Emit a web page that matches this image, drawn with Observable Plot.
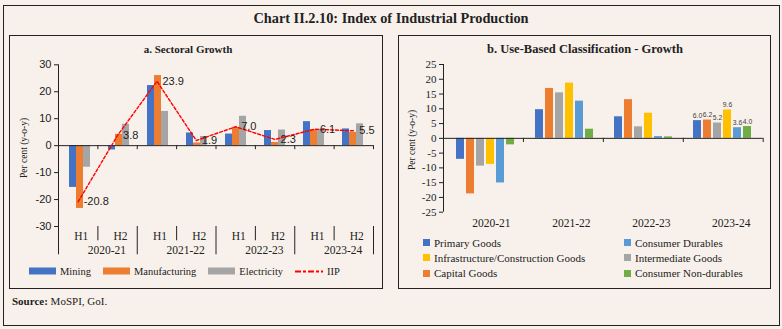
<!DOCTYPE html>
<html>
<head>
<meta charset="utf-8">
<script src="https://cdn.jsdelivr.net/npm/d3@7"></script>
<script src="https://cdn.jsdelivr.net/npm/@observablehq/plot@0.6"></script>
<style>
  html, body { margin: 0; padding: 0; background: #f8f1eb; }
  #root { position: relative; width: 782px; height: 329px; background: #f8f1eb; overflow: hidden;
          font-family: "Liberation Serif", serif; color: #222; }
  .abs { position: absolute; }
  .box { position: absolute; border: 1.3px solid #222; box-sizing: border-box; }
  .title { position: absolute; font-weight: bold; white-space: nowrap; transform: translate(-50%, -50%); }
  .ylab { position: absolute; font-size: 9.5px; white-space: nowrap; transform: translate(-50%, -50%) rotate(-90deg); }
  .leg { position: absolute; display: flex; align-items: center; font-size: 10.5px; white-space: nowrap; }
  .leg .item { display: flex; align-items: center; }
  .sw { display: inline-block; }
  .grid { position: absolute; display: grid; grid-template-columns: 201px 160px; grid-auto-rows: 15.3px; font-size: 11px; white-space: nowrap; }
  .grid .item { display: flex; align-items: center; }
</style>
</head>
<body>
<div id="root"></div>
<script>
// ---------------- DATA ----------------
const years = ["2020-21", "2021-22", "2022-23", "2023-24"];
const halves = ["H1", "H2"];

// Panel a: sectoral growth (per cent, y-o-y), H1/H2 of each year
const sectors = ["Mining", "Manufacturing", "Electricity"];
const mining        = [-15.5, -1.6, 22.3, 4.7, 4.3, 5.6, 8.9, 6.2];
const manufacturing = [-23.3,  4.2, 26.0, 1.0, 6.8, 1.2, 5.8, 4.9];
const electricity   = [ -8.0,  7.9, 12.7, 3.4, 10.9, 5.8, 6.1, 8.1];
const iip           = [-20.8,  3.8, 23.9, 1.9, 7.0, 2.3, 6.1, 5.5];
const iipName = "IIP";

// Panel b: use-based classification growth (per cent, y-o-y)
const categories = ["Primary Goods", "Capital Goods", "Intermediate Goods",
  "Infrastructure/Construction Goods", "Consumer Durables", "Consumer Non-durables"];
const primaryGoods      = [ -7.1,  9.7,  7.3, 6.0];
const capitalGoods      = [-18.8, 16.9, 13.1, 6.2];
const intermediateGoods = [ -9.4, 15.4,  3.9, 5.2];
const infraGoods        = [ -8.8, 18.7,  8.5, 9.6];
const consumerDurables  = [-15.1, 12.6,  0.6, 3.6];
const consumerNonDur    = [ -2.2,  3.1,  0.5, 4.0];
const labelledYear = "2023-24";
const legendOrderB = ["Primary Goods", "Consumer Durables", "Infrastructure/Construction Goods",
  "Intermediate Goods", "Capital Goods", "Consumer Non-durables"];

// Tick values
const ticksA = [-30, -20, -10, 0, 10, 20, 30];
const ticksB = [-25, -20, -15, -10, -5, 0, 5, 10, 15, 20, 25];

// Text
const chartTitle = "Chart II.2.10: Index of Industrial Production";
const titleA = "a. Sectoral Growth";
const titleB = "b. Use-Based Classification - Growth";
const yLabel = "Per cent (y-o-y)";

// ---------------- STYLE ----------------
const SERIF = "Liberation Serif, serif";
const SANS = "Liberation Sans, Arial, sans-serif";
const colorsA = ["#4472c4", "#ed7d31", "#a5a5a5"];
const iipColor = "#ff0000";
const colorsB = ["#4472c4", "#ed7d31", "#a5a5a5", "#ffc000", "#5b9bd5", "#70ad47"];

// ---------------- BUILD ----------------
const root = document.getElementById("root");
function el(cls, css, html) {
  const d = document.createElement("div");
  d.className = cls;
  Object.assign(d.style, css);
  if (html != null) d.innerHTML = html;
  root.appendChild(d);
  return d;
}

// frames
el("box", {left: "3px", top: "5px", width: "777px", height: "321px"});
el("box", {left: "9px", top: "35px", width: "374px", height: "254px"});
el("box", {left: "398px", top: "35px", width: "373px", height: "254px"});
el("title", {left: "391px", top: "18px", fontSize: "14.3px"}, chartTitle);
el("title", {left: "188px", top: "49px", fontSize: "11px"}, titleA);
el("title", {left: "585px", top: "49px", fontSize: "12.5px"}, titleB);

// ---------- Panel a ----------
const periodKeys = years.flatMap(y => halves.map(h => `${y} ${h}`));
const sectorValues = [mining, manufacturing, electricity];
const sectorData = periodKeys.flatMap((p, i) => sectors.map((s, j) => ({period: p, series: s, value: sectorValues[j][i]})));

const dimA = {width: 374, height: 205, marginLeft: 49, marginRight: 10, marginTop: 8.3, marginBottom: 35};
const wrapA = el("abs", {left: "9px", top: "56px", width: "374px", height: "205px"});

const barsA = Plot.plot({
  ...dimA,
  style: {background: "transparent", overflow: "visible"},
  fx: {domain: periodKeys, padding: 0, axis: null},
  x: {domain: sectors, paddingInner: 0, paddingOuter: 1.19, axis: null},
  y: {domain: [-30, 30], axis: null},
  color: {domain: sectors, range: colorsA},
  marks: [
    Plot.barY(sectorData, {fx: "period", x: "series", y: "value", fill: "series"})
  ]
});
barsA.style.position = "absolute"; barsA.style.left = "0"; barsA.style.top = "0";
wrapA.appendChild(barsA);

const nA = periodKeys.length;
const boundsA = d3.range(0, nA + 1);
const centersA = d3.range(0, nA).map(i => i + 0.5);
const yearMidsA = d3.range(0, years.length).map(k => 2 * k + 1);

const overA = Plot.plot({
  ...dimA,
  style: {background: "transparent", overflow: "visible", fontFamily: SANS, fontSize: "11px", color: "#222"},
  x: {domain: [0, nA]},
  y: {domain: [-30, 30]},
  marks: [
    Plot.axisY(ticksA, {tickSize: 4, tickPadding: 3, tickFormat: d => String(d), label: null, fontFamily: SANS, fontSize: 11, stroke: "#222"}),
    Plot.ruleX([0], {y1: -30, y2: 30, stroke: "#222"}),
    Plot.ruleY([0], {stroke: "#222"}),
    Plot.ruleX(boundsA, {x: d => d, y1: 0, y2: -1.5, stroke: "#222"}),
    Plot.ruleX(boundsA, {x: d => d, y1: -30, y2: d => (d % 2 === 0 ? -40.5 : -35.3), stroke: "#222"}),
    Plot.line(iip, {x: (d, i) => i + 0.5, y: d => d, stroke: iipColor, strokeWidth: 1.4, strokeDasharray: "3,2"}),
    Plot.text(iip, {x: (d, i) => i + 0.5, y: d => d, text: d => d.toFixed(1), dx: 5.5, textAnchor: "start", fill: "#222", fontSize: 11, fontFamily: SANS}),
    Plot.axisX(centersA, {tickSize: 0, tickPadding: 5, dx: 3, tickFormat: d => halves[Math.floor(d) % 2], fontFamily: SERIF, fontSize: 11.5, label: null}),
    Plot.axisX(yearMidsA, {tickSize: 0, tickPadding: 19, dx: 9, tickFormat: d => years[Math.floor(d / 2)], fontFamily: SERIF, fontSize: 11.5, label: null})
  ]
});
overA.style.position = "absolute"; overA.style.left = "0"; overA.style.top = "0";
wrapA.appendChild(overA);

el("ylab", {left: "24px", top: "148px"}, yLabel);

// legend a
const legA = el("leg", {left: "29px", top: "271px", transform: "translateY(-50%)", gap: "12px"});
sectors.forEach((s, i) => {
  const it = document.createElement("div");
  it.className = "item";
  it.innerHTML = `<span class="sw" style="width:27px;height:6.5px;background:${colorsA[i]};margin-right:4px"></span>${s}`;
  legA.appendChild(it);
});
{
  const it = document.createElement("div");
  it.className = "item";
  it.innerHTML = `<svg width="28" height="6" style="margin-right:4px"><line x1="0" x2="28" y1="3" y2="3" stroke="${iipColor}" stroke-width="2" stroke-dasharray="6,2,3,2"/></svg>${iipName}`;
  legA.appendChild(it);
}

// ---------- Panel b ----------
const catValues = [primaryGoods, capitalGoods, intermediateGoods, infraGoods, consumerDurables, consumerNonDur];
const useData = years.flatMap((y, i) => categories.map((c, j) => ({year: y, category: c, value: catValues[j][i]})));

const dimB = {width: 373, height: 180, marginLeft: 45, marginRight: 8.3, marginTop: 8, marginBottom: 24.3};
const wrapB = el("abs", {left: "398px", top: "56px", width: "373px", height: "180px"});

const barsB = Plot.plot({
  ...dimB,
  style: {background: "transparent", overflow: "visible"},
  fx: {domain: years, padding: 0, axis: null},
  x: {domain: categories, paddingInner: 0.2, paddingOuter: 0.83, axis: null},
  y: {domain: [-25, 25], axis: null},
  color: {domain: categories, range: colorsB},
  marks: [
    Plot.barY(useData, {fx: "year", x: "category", y: "value", fill: "category"}),
    Plot.text(useData, {fx: "year", x: "category", y: "value",
      text: d => (d.year === labelledYear ? d.value.toFixed(1) : null),
      dy: -5, fontSize: 6.8, fontFamily: SANS, fill: "#404040"})
  ]
});
barsB.style.position = "absolute"; barsB.style.left = "0"; barsB.style.top = "0";
wrapB.appendChild(barsB);

const nB = years.length;
const boundsB = d3.range(0, nB + 1);
const centersB = d3.range(0, nB).map(i => i + 0.5);

const overB = Plot.plot({
  ...dimB,
  style: {background: "transparent", overflow: "visible", fontFamily: SERIF, fontSize: "11px", color: "#222"},
  x: {domain: [0, nB]},
  y: {domain: [-25, 25]},
  marks: [
    Plot.axisY(ticksB, {tickSize: 4, tickPadding: 3, tickFormat: d => String(d), label: null, fontFamily: SERIF, fontSize: 11, stroke: "#222"}),
    Plot.ruleX([0], {y1: -25, y2: 25, stroke: "#222"}),
    Plot.ruleY([0], {stroke: "#222"}),
    Plot.ruleX(boundsB, {x: d => d, y1: 0, y2: -1.4, stroke: "#222"}),
    Plot.axisX(centersB, {tickSize: 0, tickPadding: 7, dx: 8, tickFormat: d => years[Math.floor(d)], fontFamily: SERIF, fontSize: 11.5, label: null})
  ]
});
overB.style.position = "absolute"; overB.style.left = "0"; overB.style.top = "0";
wrapB.appendChild(overB);

el("ylab", {left: "412px", top: "140px"}, yLabel);

// legend b
const legB = el("grid", {left: "423px", top: "235px"});
legendOrderB.forEach(c => {
  const it = document.createElement("div");
  it.className = "item";
  it.innerHTML = `<span class="sw" style="width:7px;height:7px;background:${colorsB[categories.indexOf(c)]};margin-right:4px"></span>${c}`;
  legB.appendChild(it);
});

// source
el("abs", {left: "12px", top: "295px", fontSize: "11px"}, "<b>Source:</b> MoSPI, GoI.");
</script>
</body>
</html>
